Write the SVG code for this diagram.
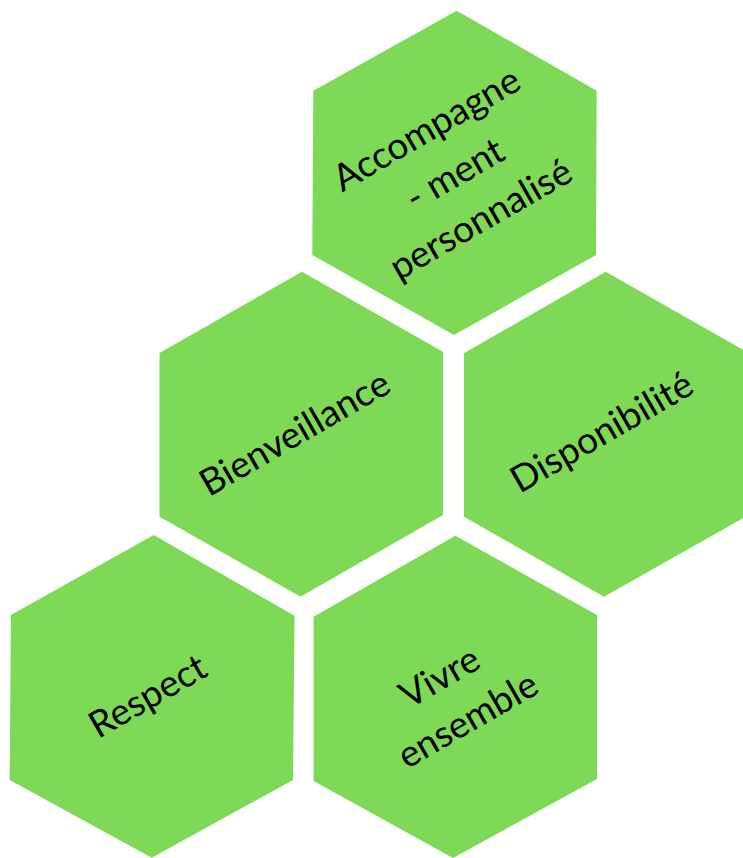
<svg xmlns="http://www.w3.org/2000/svg" width="743" height="858" viewBox="0 0 743 858">
  <style>
    .hex { fill: #7ED957; }
    .lbl { font-family: "Lato", "Liberation Sans", sans-serif; font-size: 37px; fill: #000000; text-anchor: middle; }
  </style>
  <rect x="0" y="0" width="743" height="858" fill="#ffffff"/>
  <g id="node-accompagnement">
    <polygon class="hex" points="456.7,10.7 596.7,90.7 596,255 454,335 312.3,255 313.3,90.7"/>
    <g transform="translate(461,185) rotate(-30)">
      <text class="lbl" x="-2" y="-53">Accompagne</text>
      <text class="lbl" x="0" y="0">- ment</text>
      <text class="lbl" x="0" y="52">personnalisé</text>
    </g>
  </g>
  <g id="node-bienveillance">
    <polygon class="hex" points="302,271.7 443,351.7 443,515 300.5,596.7 159.5,516.7 159.5,353"/>
    <text class="lbl" transform="translate(301,444) rotate(-30)" x="0" y="0">Bienveillance</text>
  </g>
  <g id="node-disponibilite">
    <polygon class="hex" points="605.7,271.7 747,352 747,516 603.9,596.7 464,516.7 464,353.3"/>
    <text class="lbl" transform="translate(608,443) rotate(-30)" x="0" y="0">Disponibilité</text>
  </g>
  <g id="node-respect">
    <polygon class="hex" points="153.7,535 294.5,615.7 293,780 151.8,857.7 9.7,780 10.9,615"/>
    <text class="lbl" transform="translate(154,707) rotate(-30)" x="0" y="0">Respect</text>
  </g>
  <g id="node-vivre-ensemble">
    <polygon class="hex" points="455.3,535.7 597,615 597,779 453,858 313.6,781 313.6,616.7"/>
    <g transform="translate(446,688) rotate(-30)">
      <text class="lbl" x="0" y="0">Vivre</text>
      <text class="lbl" x="3" y="51">ensemble</text>
    </g>
  </g>
  <g id="connectors"/>
</svg>
